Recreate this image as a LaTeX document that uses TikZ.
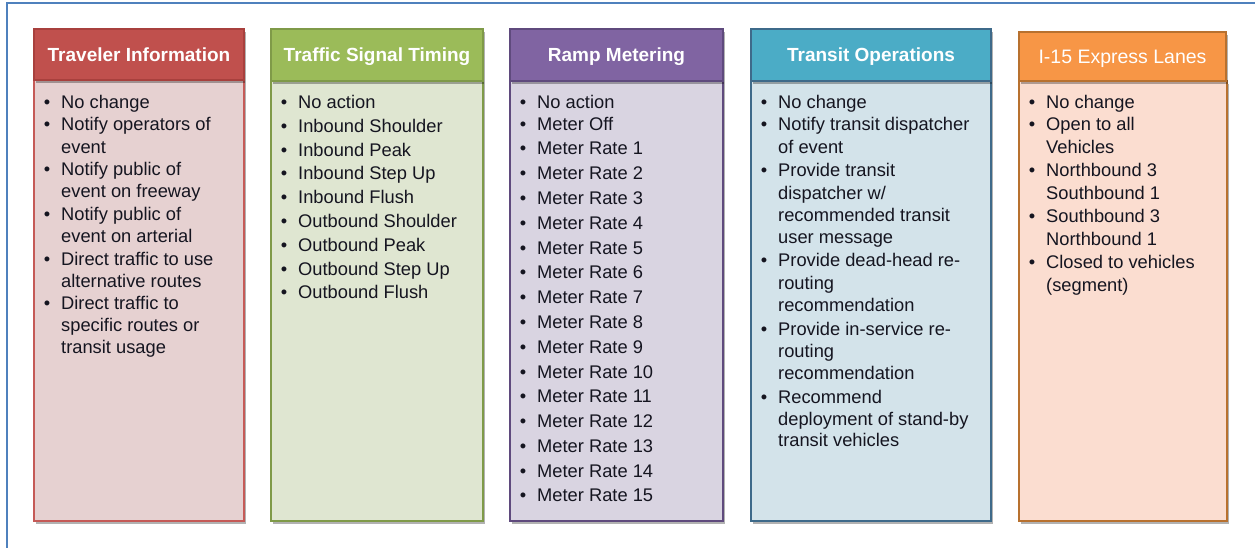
\documentclass[tikz,border=0pt]{standalone}
\usepackage{fontspec}
\setmainfont{Liberation Sans}
\usetikzlibrary{shadows}
\definecolor{frameblue}{HTML}{4F81BD}
\definecolor{redH}{HTML}{C0504D}\definecolor{redD}{HTML}{A8403D}\definecolor{redB}{HTML}{E6D1D1}\definecolor{redE}{HTML}{C55A57}
\definecolor{grnH}{HTML}{9BBB59}\definecolor{grnD}{HTML}{7F9A48}\definecolor{grnB}{HTML}{DFE6D1}
\definecolor{purH}{HTML}{8064A2}\definecolor{purD}{HTML}{5F4A7D}\definecolor{purB}{HTML}{D9D4E1}
\definecolor{teaH}{HTML}{4BACC6}\definecolor{teaD}{HTML}{3E6A8A}\definecolor{teaB}{HTML}{D3E3EA}
\definecolor{orgH}{HTML}{F79646}\definecolor{orgD}{HTML}{B8712F}\definecolor{orgB}{HTML}{FBDDD0}
\definecolor{txt}{HTML}{151520}
\newcommand\colitems[3]{%
  \foreach \cy/\cb/\ct [count=\ci] in {#3} {%
    \ifnum\cb=1 \node[bul] (#1b\ci) at (#2+13,\cy) {•};\fi
    \node[itm] (#1t\ci) at (#2+27,\cy) {\ct};
  }}
\begin{document}
\begin{tikzpicture}[x=1pt,y=-1pt,
  boxshadow/.style={drop shadow={shadow xshift=2pt,shadow yshift=-3pt,opacity=0.3,fill=black}},
  hdr/.style={rectangle,inner sep=0pt,line width=1.2pt,boxshadow},
  bodybox/.style={rectangle,inner sep=0pt,line width=2pt,boxshadow},
  htxt/.style={anchor=base,inner sep=0pt,text=white,font=\fontsize{19}{22}\selectfont\bfseries},
  itm/.style={anchor=base west,inner sep=0pt,text=txt,font=\fontsize{18.3}{22}\selectfont},
  bul/.style={anchor=base,inner sep=0pt,text=txt,font=\fontsize{18.3}{22}\selectfont},
  framel/.style={draw=frameblue,line width=1.5pt}]
\useasboundingbox (0,0) rectangle (1255,548);
\draw[framel] (7,560) -- (7,3) -- (1262,3);
% column 1
\node[bodybox,fill=redB,draw=redE,minimum width=210pt,minimum height=441pt] (b1) at (139,300.5) {};
\node[hdr,fill=redH,draw=redD,minimum width=210pt,minimum height=51pt] (h1) at (139,54.5) {};
\node[htxt] (h1l) at (139,62) {Traveler Information};
% column 2
\node[bodybox,fill=grnB,draw=grnD,minimum width=212pt,minimum height=440pt] (b2) at (377,301) {};
\node[hdr,fill=grnH,draw=grnD,minimum width=212pt,minimum height=52pt] (h2) at (377,55) {};
\node[htxt] (h2l) at (377,62) {Traffic Signal Timing};
% column 3
\node[bodybox,fill=purB,draw=purD,minimum width=213pt,minimum height=440pt] (b3) at (616.5,301) {};
\node[hdr,fill=purH,draw=purD,minimum width=213pt,minimum height=52pt] (h3) at (616.5,55) {};
\node[htxt] (h3l) at (616.5,62) {Ramp Metering};
% column 4
\node[bodybox,fill=teaB,draw=teaD,minimum width=240pt,minimum height=440pt] (b4) at (871,301) {};
\node[hdr,fill=teaH,draw=teaD,minimum width=240pt,minimum height=52pt] (h4) at (871,55) {};
\node[htxt] (h4l) at (871,62) {Transit Operations};
% column 5
\node[bodybox,fill=orgB,draw=orgD,minimum width=208pt,minimum height=440pt] (b5) at (1123,301) {};
\node[hdr,fill=orgH,draw=orgD,minimum width=207pt,minimum height=49pt] (h5) at (1122.5,56.5) {};
\node[htxt,font=\fontsize{19.5}{22}\selectfont] (h5l) at (1122.5,63.3) {I-15 Express Lanes};
% items
\colitems{a}{34}{109/1/No change, 131/1/Notify operators of, 153.5/0/event, 175.5/1/Notify public of, 198/0/event on freeway, 220/1/Notify public of, 242.5/0/event on arterial, 265/1/Direct traffic to use, 287/0/alternative routes, 309/1/Direct traffic to, 331/0/specific routes or, 353/0/transit usage}
\colitems{b}{271}{108.5/1/No action, 132.3/1/Inbound Shoulder, 156.1/1/Inbound Peak, 179.9/1/Inbound Step Up, 203.7/1/Inbound Flush, 227.5/1/Outbound Shoulder, 251.3/1/Outbound Peak, 275.1/1/Outbound Step Up, 298.9/1/Outbound Flush}
\colitems{c}{510}{108.5/1/No action, 130.5/1/Meter Off, 155/1/Meter Rate 1, 179.8/1/Meter Rate 2, 204.6/1/Meter Rate 3, 229.3/1/Meter Rate 4, 254.1/1/Meter Rate 5, 278.9/1/Meter Rate 6, 303.7/1/Meter Rate 7, 328.5/1/Meter Rate 8, 353.2/1/Meter Rate 9, 378/1/Meter Rate 10, 402.8/1/Meter Rate 11, 427.6/1/Meter Rate 12, 452.4/1/Meter Rate 13, 477.1/1/Meter Rate 14, 501.9/1/Meter Rate 15}
\colitems{d}{751}{108.5/1/No change, 130.7/1/Notify transit dispatcher, 153.3/0/of event, 176.7/1/Provide transit, 199.3/0/{dispatcher w/}, 221.7/0/recommended transit, 243.8/0/user message, 266.7/1/Provide dead-head re-, 289/0/routing, 311.7/0/recommendation, 335/1/Provide in-service re-, 357/0/routing, 379.3/0/recommendation, 403/1/Recommend, 425/0/deployment of stand-by, 446.7/0/transit vehicles}
\colitems{e}{1019}{108.5/1/No change, 131/1/Open to all, 153.3/0/Vehicles, 176.7/1/Northbound 3, 199.3/0/Southbound 1, 222.5/1/Southbound 3, 245.5/0/Northbound 1, 268.5/1/Closed to vehicles, 291.5/0/(segment)}
\end{tikzpicture}
\end{document}
